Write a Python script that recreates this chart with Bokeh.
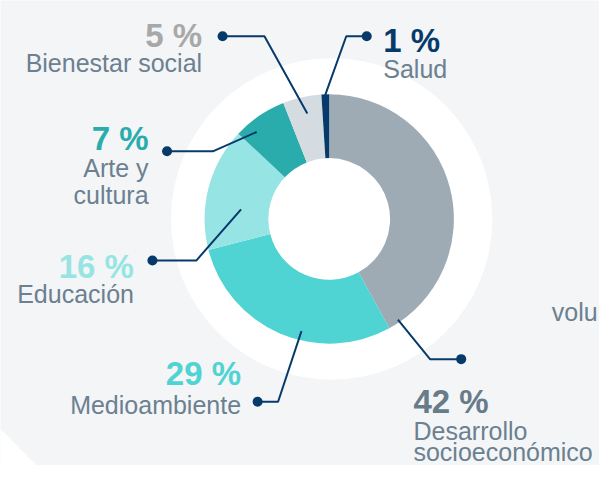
import numpy as np
from bokeh.plotting import figure
from bokeh.models import Range1d
from bokeh.core.properties import value
from bokeh.embed import file_html
from bokeh.resources import INLINE

# ---- data ----
categories = ["Desarrollo socioeconómico", "Medioambiente", "Educación",
              "Arte y cultura", "Bienestar social", "Salud"]
shares = [42, 29, 16, 7, 5, 1]
pct_labels = [f"{s} %" for s in shares]
name_lines = [["Desarrollo", "socioeconómico"], ["Medioambiente"], ["Educación"],
              ["Arte y", "cultura"], ["Bienestar social"], ["Salud"]]
extra_text = "volu"

# ---- style ----
slice_colors = ["#9eabb5", "#50d3d3", "#97e4e4", "#2aacac", "#d5dce1", "#063a6b"]
pct_colors = ["#687b89", "#50d3d3", "#97e4e4", "#2aacac", "#a8a8a8", "#063a6b"]
label_color = "#6b8090"
navy = "#063a6b"
bg = "#f4f5f7"

W, H = 615, 481
def Y(y):
    return H - y

# label placement (reference pixel coords): x, align, pct baseline, line baselines
label_pos = [
    (424, "left", 415, [445, 467]),
    (247, "right", 386, [418]),
    (137, "right", 275, [304]),
    (152, "right", 143, [173, 201]),
    (207, "right", 36, [65]),
    (393, "left", 41, [71]),
]
leaders = [
    [(408, 330), (441, 371), (473, 371)],
    [(309, 342), (285, 415), (264, 415)],
    [(247, 216), (201, 269), (156, 269)],
    [(263, 136), (218, 156), (171, 156)],
    [(315, 117), (271, 37), (228, 37)],
    [(333, 99), (355, 37), (376, 37)],
]

p = figure(width=599, height=465, x_range=Range1d(0, W), y_range=Range1d(0, H),
           output_backend="svg", toolbar_location=None, min_border=0,
           x_axis_location=None, y_axis_location=None)
p.grid.visible = False
p.outline_line_color = None
p.background_fill_color = bg
p.border_fill_color = bg

# decorative white shapes
p.patch([-10, 37, 60, -10], [Y(433), Y(481), Y(500), Y(500)], fill_color="white", line_color=None)
p.circle(x=[340], y=[Y(226)], radius=165, fill_color="white", line_color=None)

# donut
cx, cy = 337.5, Y(226)
cum = np.cumsum([0] + shares) / sum(shares) * 2 * np.pi
starts = np.pi / 2 - cum[:-1]
ends = np.pi / 2 - cum[1:]
p.annular_wedge(x=cx, y=cy, inner_radius=62.5, outer_radius=128,
                start_angle=starts, end_angle=ends, direction="clock",
                fill_color=slice_colors, line_color=None)

# leader lines
for pts in leaders:
    xs = [a for a, b in pts]
    ys = [Y(b) for a, b in pts]
    p.line(xs, ys, line_color=navy, line_width=2)
    p.scatter([xs[-1]], [ys[-1]], size=10, fill_color=navy, line_color=None)

# labels
for i, (x, align, pb, lbs) in enumerate(label_pos):
    p.text(x=[x], y=[Y(pb)], text=[pct_labels[i]], text_align=align,
           text_baseline="alphabetic", text_color=pct_colors[i],
           text_font=value("Liberation Sans"), text_font_style="bold",
           text_font_size="33px")
    for line, b in zip(name_lines[i], lbs):
        p.text(x=[x], y=[Y(b)], text=[line], text_align=align,
               text_baseline="alphabetic", text_color=label_color,
               text_font=value("Liberation Sans"), text_font_size="25px")

p.text(x=[566], y=[Y(322)], text=[extra_text], text_align="left",
       text_baseline="alphabetic", text_color=label_color,
       text_font=value("Liberation Sans"), text_font_size="25px")

open("out.html", "w").write(file_html(p, INLINE))
